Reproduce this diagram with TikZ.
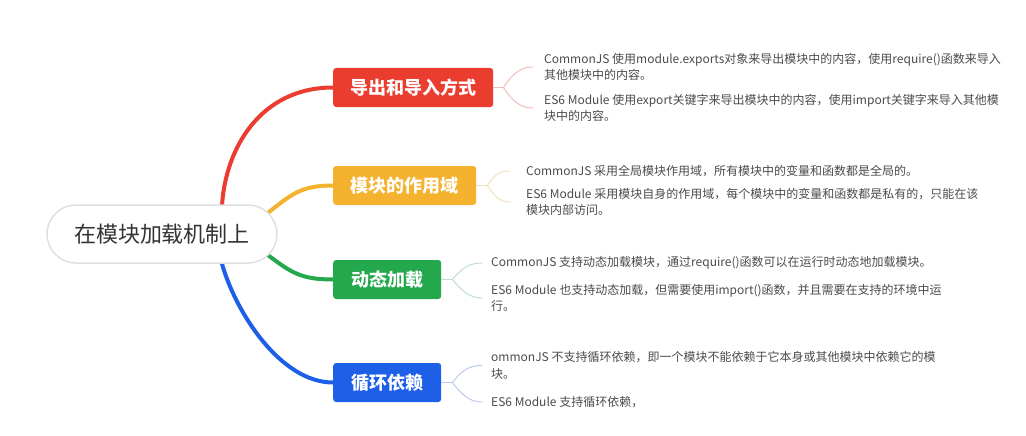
\documentclass[tikz,border=0pt]{standalone}
\usepackage{fontspec}
\setmainfont{Noto Sans CJK SC}
\usetikzlibrary{calc,backgrounds}
\definecolor{cred}{RGB}{234,61,47}
\definecolor{cyel}{RGB}{245,178,46}
\definecolor{cgrn}{RGB}{36,168,76}
\definecolor{cblu}{RGB}{30,95,232}
\definecolor{lred}{RGB}{240,190,186}
\definecolor{lyel}{RGB}{240,225,190}
\definecolor{lgrn}{RGB}{190,222,200}
\definecolor{lblu}{RGB}{185,200,235}
\definecolor{txt}{RGB}{75,75,75}
\definecolor{roottxt}{RGB}{51,51,51}
\begin{document}
\begin{tikzpicture}[x=1pt,y=-1pt,
  rootnode/.style={draw=black!12, line width=1.5pt, fill=white, rounded corners=29pt,
    minimum width=230pt, minimum height=58pt, inner sep=0pt, text=roottxt,
    font=\fontsize{22}{24}\selectfont},
  branch/.style={fill=#1, text=white, font=\fontsize{18}{20}\selectfont\bfseries,
    minimum height=39pt, rounded corners=3pt, inner sep=0pt, anchor=west},
  para/.style={anchor=west, align=left, font=\fontsize{12}{16.5}\selectfont, text=txt, inner sep=0pt},
  trunk/.style={line width=4pt, draw=#1, line cap=round},
  twig/.style={line width=1pt, draw=#1}]
\useasboundingbox (0,0) rectangle (1026,436);

\node[rootnode] (root) at (162,234) {在模块加载机制上};

\node[branch=cred, minimum width=160pt] (b1) at (333,87.5) {导出和导入方式};
\node[branch=cyel, minimum width=143pt] (b2) at (333,185.5) {模块的作用域};
\node[branch=cgrn, minimum width=108pt] (b3) at (333,279.5) {动态加载};
\node[branch=cblu, minimum width=108pt] (b4) at (333,382.5) {循环依赖};

\node[para] (p11) at (544,67) {CommonJS 使用module.exports对象来导出模块中的内容，使用require()函数来导入\\其他模块中的内容。};
\node[para] (p12) at (544,108) {ES6 Module 使用export关键字来导出模块中的内容，使用import关键字来导入其他模\\块中的内容。};
\node[para] (p21) at (526,171) {CommonJS 采用全局模块作用域，所有模块中的变量和函数都是全局的。};
\node[para] (p22) at (526,202) {ES6 Module 采用模块自身的作用域，每个模块中的变量和函数都是私有的，只能在该\\模块内部访问。};
\node[para] (p31) at (491,263) {CommonJS 支持动态加载模块，通过require()函数可以在运行时动态地加载模块。};
\node[para] (p32) at (491,298) {ES6 Module 也支持动态加载，但需要使用import()函数，并且需要在支持的环境中运\\行。};
\node[para] (p41) at (491,365.5) {ommonJS 不支持循环依赖，即一个模块不能依赖于它本身或其他模块中依赖它的模\\块。};
\node[para] (p42) at (491,402) {ES6 Module 支持循环依赖，};

\begin{scope}[on background layer]
\draw[trunk=cred] ($(root.north)+(60,2)$) .. controls +(3,-57) and +(-73,0) .. (b1.west);
\draw[trunk=cyel] ($(root.east)+(-10,-21)$) .. controls +(23,-18) and +(-33,0) .. (b2.west);
\draw[trunk=cgrn] ($(root.east)+(-10,21)$) .. controls +(23,17) and +(-33,0) .. (b3.west);
\draw[trunk=cblu] ($(root.south)+(60,0)$) .. controls +(13,47) and +(-53,0) .. (b4.west);
\end{scope}

% twigs
\draw[twig=lred] (b1.east) -- ++(10,0) coordinate (t1);
\draw[twig=lred] (t1) .. controls +(10,-15) and +(-12,0) .. ($(p11.west)+(-11,0)$);
\draw[twig=lred] (t1) .. controls +(10,15) and +(-12,0) .. ($(p12.west)+(-11,0)$);

\draw[twig=lyel] (b2.east) -- ++(11,0) coordinate (t2);
\draw[twig=lyel] (t2) .. controls +(8,-12) and +(-10,0) .. ($(p21.west)+(-16,0)$);
\draw[twig=lyel] (t2) .. controls +(8,12) and +(-10,0) .. ($(p22.west)+(-16,0)$);

\draw[twig=lgrn] (b3.east) -- ++(11,0) coordinate (t3);
\draw[twig=lgrn] (t3) .. controls +(10,-12) and +(-12,0) .. ($(p31.west)+(-9,0)$);
\draw[twig=lgrn] (t3) .. controls +(10,12) and +(-12,0) .. ($(p32.west)+(-9,0)$);

\draw[twig=lblu] (b4.east) -- ++(11,0) coordinate (t4);
\draw[twig=lblu] (t4) .. controls +(10,-13) and +(-12,0) .. ($(p41.west)+(-9,0)$);
\draw[twig=lblu] (t4) .. controls +(10,13) and +(-12,0) .. ($(p42.west)+(-9,0)$);
\end{tikzpicture}
\end{document}
